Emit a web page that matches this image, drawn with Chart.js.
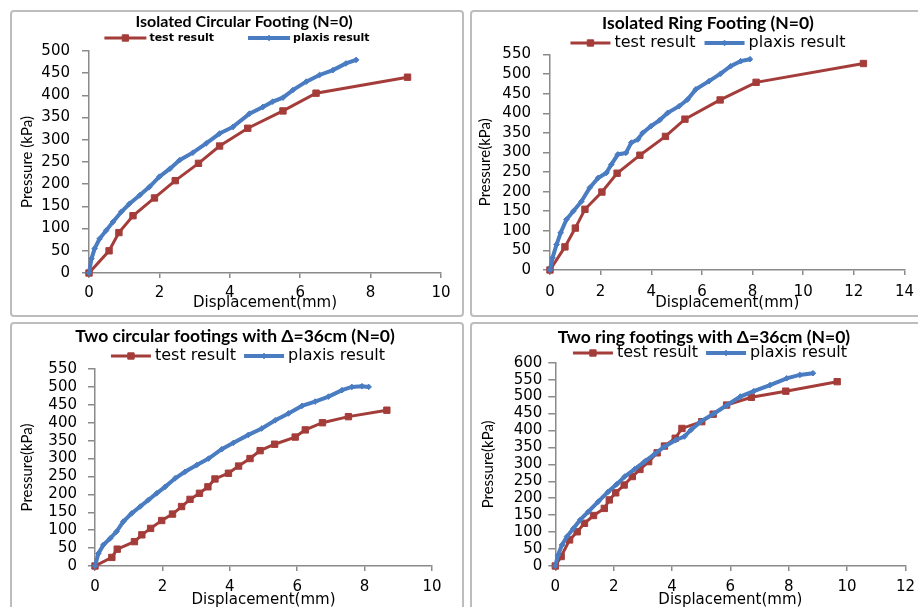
<!DOCTYPE html>
<html>
<head>
<meta charset="utf-8">
<script src="https://cdn.jsdelivr.net/npm/chart.js@4.4.1/dist/chart.umd.min.js"></script>
<style>
  html, body { margin: 0; padding: 0; background: #fff; overflow: hidden; }
  body { width: 918px; height: 607px; position: relative; }
  .panel { position: absolute; width: 450px; border: 2px solid #bdbdbd; border-radius: 4px; overflow: hidden; background: #fff; }
  .panel canvas { position: absolute; left: 0; top: 0; }
</style>
</head>
<body>
<div class="panel" style="left:10px;top:10px;height:303px"><canvas id="chart1" width="450" height="320"></canvas></div>
<div class="panel" style="left:470px;top:10px;height:303px"><canvas id="chart2" width="450" height="320"></canvas></div>
<div class="panel" style="left:10px;top:322px;height:300px"><canvas id="chart3" width="450" height="300"></canvas></div>
<div class="panel" style="left:470px;top:322px;height:300px"><canvas id="chart4" width="450" height="300"></canvas></div>
<script>
// Isolated circular footing
const circTestDisp = [0, 0.57, 0.85, 1.25, 1.86, 2.45, 3.11, 3.71, 4.51, 5.51, 6.45, 9.05];
const circTestPres = [0, 50, 91, 129, 169, 208, 247, 286, 326, 365, 405, 441];
const circPlaxisDisp = [0, 0.07, 0.16, 0.3, 0.49, 0.68, 0.92, 1.15, 1.44, 1.72, 2.0, 2.3, 2.57, 2.95, 3.33, 3.71, 4.09, 4.56, 4.94, 5.22, 5.51, 5.79, 6.17, 6.55, 6.93, 7.3, 7.59];
const circPlaxisPres = [0, 32, 55, 77, 96, 115, 138, 156, 175, 194, 217, 235, 254, 271, 292, 314, 329, 359, 374, 386, 395, 412, 431, 446, 457, 472, 480];

// Isolated ring footing
const ringTestDisp = [0, 0.59, 1.0, 1.38, 2.05, 2.65, 3.55, 4.56, 5.33, 6.72, 8.14, 12.38];
const ringTestPres = [0, 59, 107, 155, 199, 247, 293, 341, 385, 434, 479, 527];
const ringPlaxisDisp = [0, 0.1, 0.26, 0.42, 0.65, 0.92, 1.24, 1.57, 1.9, 2.23, 2.42, 2.68, 3.0, 3.21, 3.47, 3.66, 3.99, 4.32, 4.65, 5.1, 5.43, 5.76, 6.28, 6.74, 7.13, 7.53, 7.9];
const ringPlaxisPres = [0, 31, 65, 95, 129, 150, 175, 210, 235, 248, 269, 295, 299, 325, 333, 350, 367, 382, 401, 418, 435, 461, 482, 501, 520, 533, 538];

// Two circular footings, spacing 36cm
const twinCircTestDisp = [0, 0.5, 0.66, 1.17, 1.39, 1.65, 1.98, 2.3, 2.57, 2.82, 3.1, 3.35, 3.56, 3.96, 4.26, 4.6, 4.9, 5.33, 5.94, 6.24, 6.75, 7.52, 8.66];
const twinCircTestPres = [0, 24, 47, 68, 87, 105, 127, 145, 166, 186, 203, 221, 243, 259, 279, 300, 322, 340, 360, 380, 400, 417, 435];
const twinCircPlaxisDisp = [0, 0.1, 0.25, 0.45, 0.64, 0.84, 1.09, 1.34, 1.58, 1.83, 2.08, 2.38, 2.67, 3.02, 3.37, 3.76, 4.11, 4.55, 4.95, 5.35, 5.74, 6.14, 6.53, 6.93, 7.33, 7.62, 7.92, 8.12];
const twinCircPlaxisPres = [0, 35, 59, 77, 96, 124, 147, 166, 184, 203, 221, 245, 263, 282, 300, 326, 344, 366, 384, 407, 426, 447, 459, 473, 491, 500, 502, 500];

// Two ring footings, spacing 36cm
const twinRingTestDisp = [0, 0.2, 0.49, 0.75, 1.0, 1.31, 1.68, 1.85, 2.07, 2.36, 2.64, 2.9, 3.2, 3.49, 3.74, 4.11, 4.34, 5.02, 5.41, 5.87, 6.72, 7.9, 9.66];
const twinRingTestPres = [0, 28, 77, 101, 126, 149, 170, 195, 216, 239, 264, 285, 308, 334, 354, 377, 406, 426, 448, 475, 498, 516, 544];
const twinRingPlaxisDisp = [0, 0.09, 0.23, 0.4, 0.62, 0.85, 1.13, 1.47, 1.81, 2.1, 2.38, 2.72, 3.06, 3.4, 3.74, 4.13, 4.42, 4.64, 4.98, 5.44, 5.89, 6.34, 6.8, 7.36, 7.93, 8.38, 8.83];
const twinRingPlaxisPres = [0, 32, 62, 87, 111, 136, 160, 190, 219, 241, 264, 286, 308, 330, 352, 372, 382, 401, 426, 450, 475, 500, 516, 534, 554, 564, 569];

const seriesNames = ['test result', 'plaxis result'];
const xAxisTitle = 'Displacement(mm)';
const xStep = 2;
const yStep = 50;

const RED = '#a43d3a';
const BLUE = '#4a7cc1';
const AXIS = '#8a8a8a';
const TICK_FONT = { family: 'DejaVu Sans', size: 15 };

function makePoints(xs, ys) {
  return xs.map((x, i) => ({ x: x, y: ys[i] }));
}

// Title and legend (line with marker, Excel style) drawn on top of each chart
const panelText = {
  id: 'panelText',
  afterDraw(chart, args, opts) {
    const ctx = chart.ctx;
    ctx.save();
    ctx.fillStyle = '#000';
    ctx.textBaseline = 'middle';
    ctx.textAlign = 'center';
    ctx.font = opts.titleFont;
    ctx.fillText(opts.title, opts.titleX, opts.titleY);

    ctx.font = opts.legendFont;
    ctx.textAlign = 'left';
    const sets = chart.data.datasets;
    const widths = sets.map(ds => ctx.measureText(ds.label).width);
    let total = opts.itemGap * (sets.length - 1);
    widths.forEach(w => { total += opts.lineLen + opts.textGap + w; });

    let x = opts.legendX - total / 2;
    const y = opts.legendY;
    sets.forEach((ds, i) => {
      ctx.strokeStyle = ds.borderColor;
      ctx.lineWidth = ds.borderWidth;
      ctx.beginPath();
      ctx.moveTo(x, y);
      ctx.lineTo(x + opts.lineLen, y);
      ctx.stroke();
      ctx.fillStyle = ds.pointBackgroundColor;
      ctx.strokeStyle = ds.pointBorderColor;
      ctx.lineWidth = 1;
      Chart.helpers.drawPoint(ctx, { pointStyle: ds.pointStyle, radius: ds.pointRadius, borderWidth: 1, rotation: 0 }, x + opts.lineLen / 2, y);
      ctx.fillStyle = '#000';
      ctx.fillText(ds.label, x + opts.lineLen + opts.textGap, y);
      x += opts.lineLen + opts.textGap + widths[i] + opts.itemGap;
    });
    ctx.restore();
  }
};

function buildPanel(canvasId, cfg) {
  const ctx = document.getElementById(canvasId).getContext('2d');

  new Chart(ctx, {
    type: 'scatter',
    data: {
      datasets: [{
        label: seriesNames[0],
        data: makePoints(cfg.testX, cfg.testY),
        showLine: true,
        borderColor: RED,
        backgroundColor: RED,
        borderWidth: 3,
        pointStyle: 'rect',
        pointRadius: 4.5,
        pointBackgroundColor: RED,
        pointBorderColor: RED,
        pointBorderWidth: 1,
        tension: 0,
        clip: false,
        order: 2
      }, {
        label: seriesNames[1],
        data: makePoints(cfg.plaxisX, cfg.plaxisY),
        showLine: true,
        borderColor: BLUE,
        backgroundColor: BLUE,
        borderWidth: 4,
        pointStyle: 'rectRot',
        pointRadius: 2.8,
        pointBackgroundColor: BLUE,
        pointBorderColor: BLUE,
        pointBorderWidth: 1,
        tension: 0,
        clip: false,
        order: 1
      }]
    },
    options: {
      responsive: false,
      animation: false,
      layout: { padding: cfg.padding },
      plugins: {
        legend: { display: false },
        tooltip: { enabled: false },
        panelText: {
          title: cfg.title,
          titleFont: cfg.titleFont,
          titleX: cfg.titleX,
          titleY: cfg.titleY,
          legendFont: cfg.legendFont,
          legendX: cfg.legendX,
          legendY: cfg.legendY,
          lineLen: cfg.lineLen,
          textGap: cfg.textGap,
          itemGap: cfg.itemGap
        }
      },
      scales: {
        x: {
          type: 'linear',
          min: 0,
          max: cfg.xMax,
          afterFit: s => { s.height = cfg.xHeight; },
          ticks: { stepSize: xStep, font: TICK_FONT, color: '#000', padding: cfg.xTickPad, maxRotation: 0 },
          grid: { drawOnChartArea: false, drawTicks: true, tickLength: 5, color: AXIS, lineWidth: 1.5 },
          border: { color: AXIS, width: 1.5 },
          title: {
            display: true,
            text: xAxisTitle,
            font: { family: 'DejaVu Sans', size: 15 },
            color: '#000',
            padding: { top: 0, bottom: cfg.xTitlePad }
          }
        },
        y: {
          type: 'linear',
          min: 0,
          max: cfg.yMax,
          afterFit: s => { s.width = cfg.yWidth; },
          ticks: { stepSize: yStep, font: TICK_FONT, color: '#000', padding: cfg.yTickPad, autoSkip: false },
          grid: { drawOnChartArea: false, drawTicks: true, tickLength: 7, color: AXIS, lineWidth: 1.5 },
          border: { color: AXIS, width: 1.5 },
          title: {
            display: true,
            text: cfg.yTitle,
            font: { family: 'Lato', size: 15 },
            color: '#000',
            padding: { top: cfg.yTitlePad, bottom: 0 }
          }
        }
      }
    },
    plugins: [panelText]
  });
}

buildPanel('chart1', {
  title: 'Isolated Circular Footing (N=0)',
  titleFont: 'bold 16px Lato',
  titleX: 232, titleY: 10,
  legendFont: 'bold 11px "DejaVu Sans"',
  legendX: 225, legendY: 26, lineLen: 42, textGap: 3, itemGap: 34,
  yTitle: 'Pressure (kPa)',
  xMax: 10, yMax: 500,
  testX: circTestDisp, testY: circTestPres,
  plaxisX: circPlaxisDisp, plaxisY: circPlaxisPres,
  padding: { top: 39, right: 21, bottom: 0, left: 0 },
  yWidth: 77, xHeight: 59,
  yTickPad: 12, xTickPad: 6, yTitlePad: 6, xTitlePad: 20
});

buildPanel('chart2', {
  title: 'Isolated Ring Footing (N=0)',
  titleFont: 'bold 17.5px Lato',
  titleX: 236, titleY: 11,
  legendFont: '16px "DejaVu Sans"',
  legendX: 236, legendY: 31, lineLen: 40, textGap: 4, itemGap: 9,
  yTitle: 'Pressure(kPa)',
  xMax: 14, yMax: 550,
  testX: ringTestDisp, testY: ringTestPres,
  plaxisX: ringPlaxisDisp, plaxisY: ringPlaxisPres,
  padding: { top: 42.5, right: 15, bottom: 0, left: 0 },
  yWidth: 78, xHeight: 62,
  yTickPad: 12, xTickPad: 8, yTitlePad: 4, xTitlePad: 20
});

buildPanel('chart3', {
  title: 'Two circular footings with \u0394=36cm (N=0)',
  titleFont: 'bold 17.5px Lato',
  titleX: 223, titleY: 12,
  legendFont: '16px "DejaVu Sans"',
  legendX: 236, legendY: 32, lineLen: 40, textGap: 4, itemGap: 8,
  yTitle: 'Pressure(kPa)',
  xMax: 10, yMax: 550,
  testX: twinCircTestDisp, testY: twinCircTestPres,
  plaxisX: twinCircPlaxisDisp, plaxisY: twinCircPlaxisPres,
  padding: { top: 45, right: 30, bottom: 0, left: 0 },
  yWidth: 83, xHeight: 58,
  yTickPad: 11, xTickPad: 7, yTitlePad: 6, xTitlePad: 15
});

buildPanel('chart4', {
  title: 'Two ring footings with \u0394=36cm (N=0)',
  titleFont: 'bold 17.5px Lato',
  titleX: 232, titleY: 13,
  legendFont: '16px "DejaVu Sans"',
  legendX: 238, legendY: 29, lineLen: 40, textGap: 4, itemGap: 8,
  yTitle: 'Pressure(kPa)',
  xMax: 12, yMax: 600,
  testX: twinRingTestDisp, testY: twinRingTestPres,
  plaxisX: twinRingPlaxisDisp, plaxisY: twinRingPlaxisPres,
  padding: { top: 38.7, right: 12.7, bottom: 0, left: 0 },
  yWidth: 83.3, xHeight: 58,
  yTickPad: 6, xTickPad: 7, yTitlePad: 7, xTitlePad: 15
});
</script>
</body>
</html>
